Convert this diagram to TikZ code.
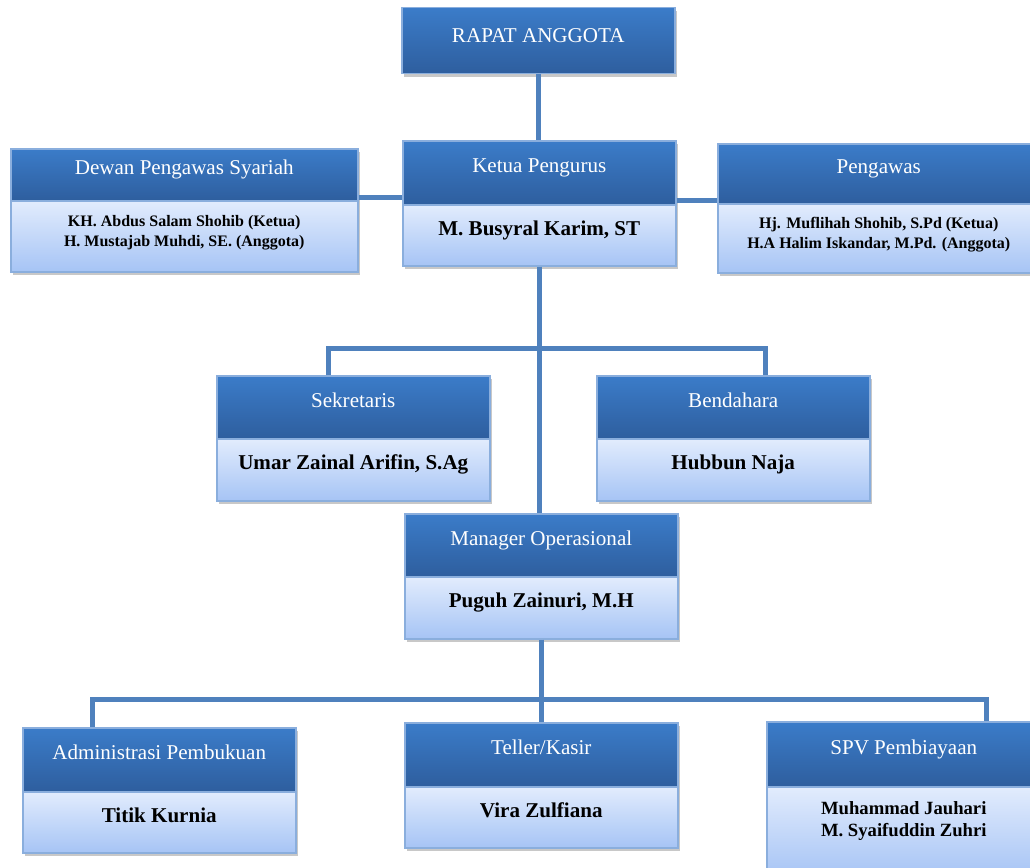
\documentclass[tikz,border=0pt]{standalone}
\usepackage{fontspec}
\setmainfont{Liberation Serif}
\usepackage{xcolor}
\usetikzlibrary{positioning, calc, shadows}

\definecolor{headtop}{HTML}{3B7CC9}
\definecolor{headbot}{HTML}{2E5E9E}
\definecolor{bodytop}{HTML}{E2ECFD}
\definecolor{bodybot}{HTML}{A6C4F5}
\definecolor{boxline}{HTML}{8AAEDD}
\definecolor{linkblue}{HTML}{4F81BD}

\newlength\pxu
\setlength\pxu{0.75pt}

\begin{document}
\begin{tikzpicture}[x=0.75pt, y=-0.75pt,
    box/.style={rectangle, draw=boxline, line width=1.5\pxu, inner sep=0pt, anchor=north west,
                align=center, text height=12\pxu, text depth=12\pxu,
                drop shadow={shadow xshift=2\pxu, shadow yshift=-3\pxu, opacity=0.3, fill=black!70}},
    head/.style={box, top color=headtop, bottom color=headbot, text=white,
                 font=\fontsize{15.8}{19}\selectfont},
    body/.style={box, top color=bodytop, bottom color=bodybot,
                 font=\bfseries\fontsize{15.8}{19}\selectfont},
    small/.style={font=\bfseries\fontsize{12}{15}\selectfont, text height=32\pxu},
    link/.style={draw=linkblue, line width=5\pxu}
  ]
  \useasboundingbox (0,0) rectangle (1030,867);
  \clip (0,0) rectangle (1030,867);
  \fill[white] (0,0) rectangle (1030,867);

  % top level
  \node[head, minimum width=273\pxu, minimum height=66\pxu, text height=16\pxu, text depth=12\pxu]
       (rapat) at (401,7) {RAPAT ANGGOTA};

  \node[head, minimum width=273\pxu, minimum height=64\pxu] (ketua-h) at (402,140) {Ketua Pengurus};
  \node[body, minimum width=273\pxu, minimum height=61\pxu] (ketua-b) at (402,204) {M. Busyral Karim, ST};

  \node[head, minimum width=347\pxu, minimum height=52\pxu] (dewan-h) at (10,148) {Dewan Pengawas Syariah};
  \node[body, small, minimum width=347\pxu, minimum height=71\pxu] (dewan-b) at (10,200)
       {KH. Abdus Salam Shohib (Ketua)\\H. Mustajab Muhdi, SE. (Anggota)};

  \node[head, minimum width=322\pxu, minimum height=60\pxu] (pengawas-h) at (717,143) {Pengawas};
  \node[body, small, minimum width=322\pxu, minimum height=69\pxu] (pengawas-b) at (717,203)
       {Hj. Muflihah Shohib, S.Pd (Ketua)\\H.A Halim Iskandar, M.Pd. (Anggota)};

  % second level
  \node[head, minimum width=273\pxu, minimum height=63\pxu] (sekretaris-h) at (216,375) {Sekretaris};
  \node[body, minimum width=273\pxu, minimum height=62\pxu] (sekretaris-b) at (216,438) {Umar Zainal Arifin, S.Ag};

  \node[head, minimum width=273\pxu, minimum height=63\pxu] (bendahara-h) at (596,375) {Bendahara};
  \node[body, minimum width=273\pxu, minimum height=62\pxu] (bendahara-b) at (596,438) {Hubbun Naja};

  \node[head, minimum width=273\pxu, minimum height=63\pxu] (manager-h) at (404,513) {Manager Operasional};
  \node[body, minimum width=273\pxu, minimum height=62\pxu] (manager-b) at (404,576) {Puguh Zainuri, M.H};

  % bottom level
  \node[head, minimum width=273\pxu, minimum height=64\pxu] (admin-h) at (22,727) {Administrasi Pembukuan};
  \node[body, minimum width=273\pxu, minimum height=61\pxu] (admin-b) at (22,791) {Titik Kurnia};

  \node[head, minimum width=273\pxu, minimum height=64\pxu] (teller-h) at (404,722) {Teller/Kasir};
  \node[body, minimum width=273\pxu, minimum height=61\pxu] (teller-b) at (404,786) {Vira Zulfiana};

  \node[head, minimum width=274\pxu, minimum height=65\pxu] (spv-h) at (766,721) {SPV Pembiayaan};
  \node[body, minimum width=274\pxu, minimum height=90\pxu, font=\bfseries\fontsize{14}{16.5}\selectfont,
        text height=22\pxu] (spv-b) at (766,786) {Muhammad Jauhari\\M. Syaifuddin Zuhri};

  % connectors
  \coordinate (split-top) at ($(ketua-b.south)+(0,82)$);
  \coordinate (split-low) at ($(manager-b.south)+(0,60)$);

  \draw[link] (rapat.south) -- (rapat.south |- ketua-h.north);
  \draw[link] ([yshift=3\pxu]dewan-b.north east) -- ([yshift=3\pxu]dewan-b.north east -| ketua-h.west);
  \draw[link] ([yshift=4\pxu]ketua-b.north east) -- ([yshift=4\pxu]ketua-b.north east -| pengawas-h.west);
  \draw[link] (ketua-b.south) -- (ketua-b.south |- manager-h.north);
  \draw[link] ($(sekretaris-h.north)+(-24.5,0)$) |- (split-top) -| ($(bendahara-h.north)+(32.5,0)$);
  \draw[link] (manager-b.south) -- (manager-b.south |- teller-h.north);
  \draw[link] ($(admin-h.north)+(-66.5,0)$) |- (split-low) -| ($(spv-h.north)+(83,0)$);
\end{tikzpicture}
\end{document}
